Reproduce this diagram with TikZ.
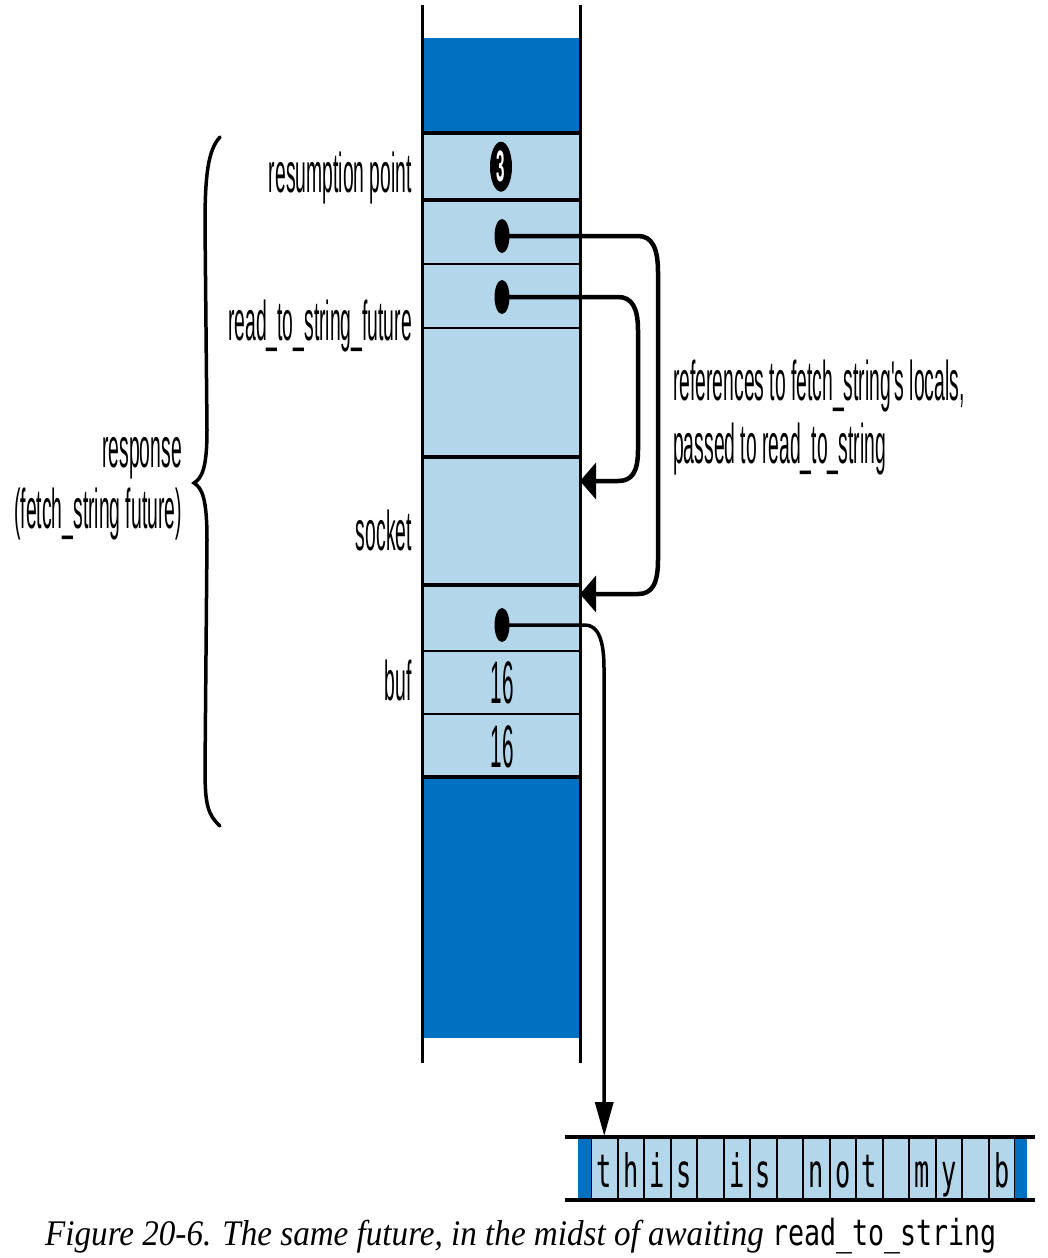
\documentclass[tikz,border=0pt]{standalone}
\usepackage{fontspec}
\setmainfont{Liberation Serif}
\newfontfamily\lblfont[FakeStretch=0.345]{Liberation Sans}
\newfontfamily\bufmono[FakeStretch=0.55]{DejaVu Sans Mono}
\newfontfamily\capserif[FakeStretch=0.92]{Liberation Serif}
\newfontfamily\capmono[FakeStretch=0.74]{DejaVu Sans Mono}
\usepackage{tikz}
\usetikzlibrary{positioning, arrows.meta, shapes.geometric}

\definecolor{frameblue}{RGB}{0,112,192}
\definecolor{cellblue}{RGB}{180,214,235}

\begin{document}
\begin{tikzpicture}[
    x=1pt, y=-1pt,
    >={Triangle[length=16pt, width=36pt]},
    cell/.style={rectangle, fill=cellblue, draw=none, minimum width=158pt, inner sep=0pt, anchor=north},
    frame/.style={cell, fill=frameblue},
    ptr/.style={ellipse, fill=black, minimum width=15pt, minimum height=34pt, inner sep=0pt},
    ref/.style={->, line width=4.5pt, line join=round},
    lbl/.style={font=\lblfont\fontsize{56}{64}\selectfont, inner sep=0pt},
    num/.style={font=\lblfont\fontsize{60}{68}\selectfont, inner sep=0pt, anchor=base},
    bufcell/.style={rectangle, fill=cellblue, draw=black, line width=2pt, minimum width=26.5pt, minimum height=63pt, inner sep=0pt, text height=37pt, text depth=0pt, font=\bufmono\fontsize{46}{50}\selectfont}
]
\useasboundingbox (0,0) rectangle (1048,1258);

% Stack column, top to bottom
\foreach \name/\top/\bot/\kind in {frameTop/38/133/frame, resume/133/200/cell, refA/200/264/cell,
    refB/264/328/cell, rtsRest/328/457/cell, socket/457/585/cell, bufPtr/585/651/cell,
    bufCap/651/714/cell, bufLen/714/777/cell, frameBot/777/1038/frame}
  \node[\kind, minimum height={\bot-\top}] (\name) at (501,\top) {};

% Separators between the slots
\foreach \y/\w in {133/4, 200/4, 264/2.5, 328/2.5, 457/4, 585/4, 651/2.5, 714/2.5, 777/4}
  \draw[line width=\w pt] (422,\y) -- (580,\y);

% Stack walls
\draw[line width=3pt] (422,5) -- (422,1063);
\draw[line width=3pt] (580,5) -- (580,1063);

% Slot contents
\node[ellipse, fill=black, minimum width=22pt, minimum height=50pt, inner sep=0pt] (step) at (resume) {};
\node[text=white, font=\lblfont\bfseries\fontsize{44}{50}\selectfont, inner sep=0pt] at (step) {3};
\node[ptr] (ptrA) at (502,236) {};
\node[ptr] (ptrB) at (502,297) {};
\node[ptr] (ptrC) at (502,625) {};
\node[num] (capVal) at (502,703) {16};
\node[num] (lenVal) at (502,767) {16};

% Labels on the left
\node[lbl, anchor=base east] (lblResume) at (412,192) {resumption point};
\node[lbl, anchor=base east] (lblFuture) at (412,340) {read\_to\_string\_future};
\node[lbl, anchor=base east] (lblSocket) at (412,550) {socket};
\node[lbl, anchor=base east] (lblBuf) at (412,700) {buf};
\node[lbl, anchor=base east] (lblResp) at (182,467) {response};
\node[lbl, anchor=base east] (lblFetch) at (182,528) {(fetch\_string future)};

% Brace round the whole future
\draw[line width=3.5pt, line cap=round]
  (220,137) .. controls (208,150) and (205,175) .. (205,225)
  -- (207,430) .. controls (207,468) and (202,478) .. (194,483)
  .. controls (202,488) and (207,498) .. (207,540)
  -- (205,770) .. controls (205,805) and (208,815) .. (220,826);

% Heap buffer
\foreach \ch [count=\i] in {t,h,i,s,{},i,s,{},n,o,t,{},m,y,{},b}
  \node[bufcell] (b\i) at ({591+26.5*(\i-0.5)},1168.5) {\ch};
\fill[frameblue] (578,1137) rectangle (591,1200);
\fill[frameblue] (1015,1137) rectangle (1027,1200);
\draw[line width=4pt] (565,1137) -- (1035,1137);
\draw[line width=4pt] (565,1200) -- (1035,1200);

% References
\coordinate (inSocket) at (580,481);
\coordinate (inBufPtr) at (580,594);
\draw[ref] (ptrA.center) -- (638,236) .. controls (652,236) and (658,248) .. (658,272)
  -- (658,560) .. controls (658,584) and (652,594) .. (638,594) -- (inBufPtr);
\draw[ref] (ptrB.center) -- (618,297) .. controls (632,297) and (638,308) .. (638,330)
  -- (638,450) .. controls (638,472) and (632,481) .. (618,481) -- (inSocket);
\draw[->, >={Triangle[length=34pt, width=18pt]}, line width=3.5pt]
  (ptrC.center) -- (585,625) .. controls (598,625) and (604,640) .. (604,668) -- (b1.north);

\node[lbl, anchor=base west] (lblRefs) at (673,400) {references to fetch\_string's locals,};
\node[lbl, anchor=base west] (lblPassed) at (673,463) {passed to read\_to\_string};

% Caption
\node[anchor=base west, inner sep=0pt, font=\capserif\fontsize{36}{40}\selectfont\itshape] (caption) at (45,1245)
  {Figure 20-6. The same future, in the midst of awaiting {\upshape\capmono read\_to\_string}};
\end{tikzpicture}
\end{document}
